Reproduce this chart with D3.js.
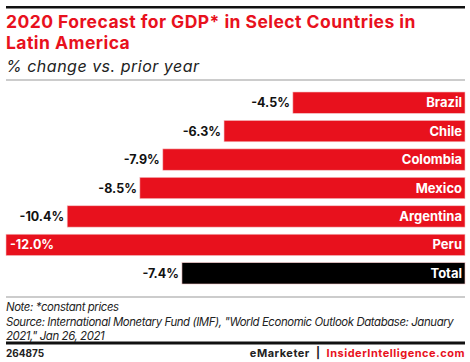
<!DOCTYPE html>
<html>
<head>
<meta charset="utf-8">
<script src="https://cdn.jsdelivr.net/npm/d3@7"></script>
<style>
  body { margin: 0; background: #fff; }
  text { font-family: Inter, "Noto Sans", sans-serif; }
</style>
</head>
<body>
<div id="container"></div>
<script>
(function(){
    // chart data
    var countries = ["Brazil", "Chile", "Colombia", "Mexico", "Argentina", "Peru", "Total"];
    var values = [-4.5, -6.3, -7.9, -8.5, -10.4, -12.0, -7.4];
    var labels = ["-4.5%", "-6.3%", "-7.9%", "-8.5%", "-10.4%", "-12.0%", "-7.4%"];

    var width = 470, height = 362;
    var red = "#e8111d";

    var svg = d3.select("#container")
        .append("svg")
        .attr("width", width)
        .attr("height", height);

    //header rules and titles
    svg.append("rect").attr("x", 6).attr("y", 6).attr("width", 459).attr("height", 2.5).attr("fill", "#111");
    svg.append("text").attr("x", 6).attr("y", 28)
        .attr("font-size", 17.5).attr("font-weight", 700).attr("fill", red)
        .attr("letter-spacing", 0.45)
        .text("2020 Forecast for GDP* in Select Countries in");
    svg.append("text").attr("x", 6).attr("y", 49)
        .attr("font-size", 17.5).attr("font-weight", 700).attr("fill", red)
        .attr("letter-spacing", 0.45)
        .text("Latin America");
    svg.append("text").attr("x", 6).attr("y", 72)
        .attr("font-size", 16).attr("font-style", "italic").attr("fill", "#222")
        .attr("letter-spacing", 0.5)
        .text("% change vs. prior year");
    svg.append("rect").attr("x", 6).attr("y", 79.5).attr("width", 459).attr("height", 1).attr("fill", "#999");

    //scales
    var x = d3.scaleLinear()
        .domain([-12, 0])
        .range([6, 465]);
    var y = d3.scaleBand()
        .domain(countries)
        .range([92, 284])
        .paddingInner(0.25)
        .paddingOuter(0);

    var rows = countries.map(function(c, i){ return {name: c, value: values[i], label: labels[i]}; });

    var g = svg.selectAll(".row").data(rows).enter().append("g").attr("class", "row");

    g.append("rect")
        .attr("x", function(d){ return x(d.value); })
        .attr("y", function(d){ return y(d.name); })
        .attr("width", function(d){ return x(0) - x(d.value); })
        .attr("height", y.bandwidth())
        .attr("fill", function(d){ return d.name === "Total" ? "#000" : red; })
        .attr("stroke", "#f3c2c4").attr("stroke-width", 0.6);

    g.append("text")
        .attr("x", x(0) - 3)
        .attr("y", function(d){ return y(d.name) + y.bandwidth() / 2 + 4.5; })
        .attr("text-anchor", "end")
        .attr("font-size", 13).attr("font-weight", 700).attr("fill", "#fff")
        .text(function(d){ return d.name; });

    g.append("text")
        .attr("x", function(d){ return d.value === d3.min(values) ? x(d.value) + 4 : x(d.value) - 3; })
        .attr("y", function(d){ return y(d.name) + y.bandwidth() / 2 + 4.5; })
        .attr("text-anchor", function(d){ return d.value === d3.min(values) ? "start" : "end"; })
        .attr("font-size", 12.5).attr("font-weight", 700)
        .attr("fill", function(d){ return d.value === d3.min(values) ? "#fff" : "#111"; })
        .text(function(d){ return d.label; });

    //footer
    svg.append("rect").attr("x", 6).attr("y", 296.5).attr("width", 459).attr("height", 1).attr("fill", "#999");
    var notes = ["Note: *constant prices",
        "Source: International Monetary Fund (IMF), \"World Economic Outlook Database: January",
        "2021,\" Jan 26, 2021"];
    svg.selectAll(".note").data(notes).enter().append("text")
        .attr("x", 6).attr("y", function(d, i){ return 311 + i * 14.5; })
        .attr("font-size", 11.4).attr("font-style", "italic").attr("fill", "#222")
        .attr("letter-spacing", -0.4)
        .text(function(d){ return d; });
    svg.append("rect").attr("x", 6).attr("y", 341.5).attr("width", 459).attr("height", 3).attr("fill", "#111");
    svg.append("text").attr("x", 6).attr("y", 357)
        .attr("font-size", 10).attr("font-weight", 700).attr("fill", "#222")
        .text("264875");
    var brand = svg.append("text").attr("x", 465).attr("y", 357)
        .attr("text-anchor", "end").attr("font-size", 11).attr("font-weight", 700)
        .attr("letter-spacing", 0.5);
    brand.append("tspan").attr("fill", "#222").text("eMarketer");
    brand.append("tspan").attr("fill", "#222").attr("dx", 6).text("|");
    brand.append("tspan").attr("fill", red).attr("dx", 6).text("InsiderIntelligence.com");
})();
</script>
</body>
</html>
